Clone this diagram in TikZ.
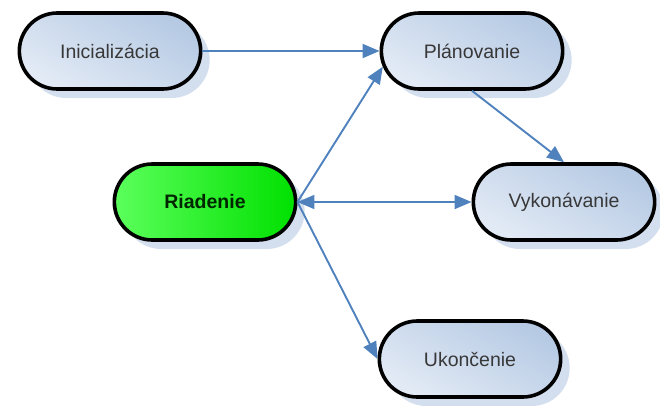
\documentclass[tikz,border=0pt]{standalone}
\usepackage{fontspec}
\setmainfont{Liberation Sans}
\usetikzlibrary{shapes.misc,arrows.meta,shadows}
\definecolor{arrowblue}{HTML}{4F81BD}
\definecolor{boxtop}{HTML}{E2EAF5}
\definecolor{boxbot}{HTML}{B6CAE4}
\definecolor{shadowblue}{HTML}{D3DEEE}
\definecolor{greentop}{HTML}{5CFF5C}
\definecolor{greenbot}{HTML}{00E000}
\tikzset{
  stage/.style={rounded rectangle, draw=black, line width=3.6pt,
    minimum width=188pt, minimum height=76pt,
    left color=boxtop, right color=boxbot, shading angle=150,
    drop shadow={shadow xshift=9pt, shadow yshift=-9pt, fill=shadowblue, opacity=1},
    font=\fontsize{19.5}{22}\selectfont, text=black!78},
  hub/.style={stage, left color=greentop, right color=greenbot,
    font=\fontsize{19.5}{22}\selectfont\bfseries, text=black!85!green},
  tipx/.tip={Triangle[length=17pt,width=14pt]},
  link/.style={draw=arrowblue, line width=1.9pt, -tipx},
  link2/.style={link, tipx-tipx}
}
\begin{document}
\begin{tikzpicture}[x=1pt,y=-1pt]
\useasboundingbox (0,0) rectangle (660,405);
\node[stage] (I) at (110,51) {Inicializácia};
\node[stage] (P) at (472,51) {Plánovanie};
\node[hub]   (R) at (205,202) {Riadenie};
\node[stage] (V) at (564,202) {Vykonávanie};
\node[stage] (U) at (470,359) {Ukončenie};
\draw[link] (I.east) -- (P.west);
\draw[link] (R.east) -- (P.190);
\draw[link] (P.south) -- (V.north);
\draw[link2] (R.east) -- (V.west);
\draw[link] (R.east) -- (U.west);
\end{tikzpicture}
\end{document}
